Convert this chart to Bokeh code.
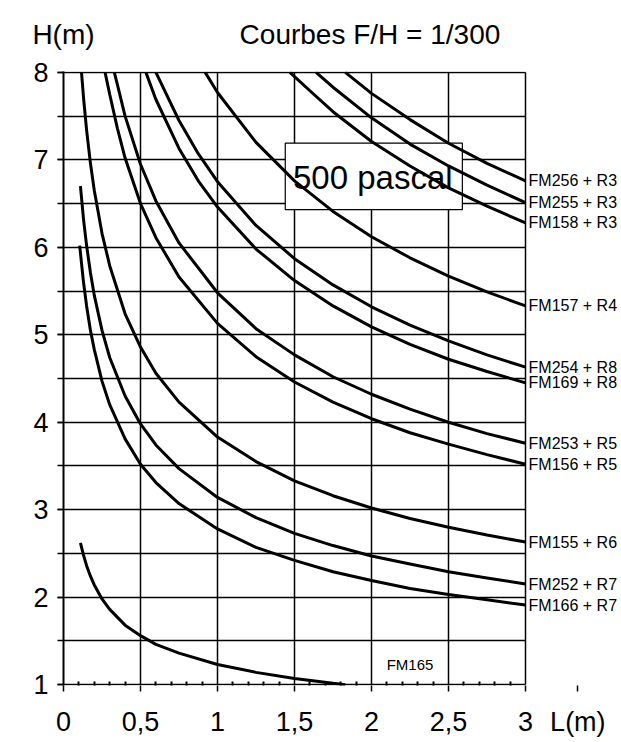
from bokeh.plotting import figure
from bokeh.models import (SingleIntervalTicker, FixedTicker, CustomJSTickFormatter, Label,
                          Range1d, LinearAxis)
from bokeh.embed import file_html
from bokeh.resources import INLINE
from bokeh.core.properties import value

TITLE = "Courbes F/H = 1/300"
Y_TITLE = "H(m)"
X_TITLE = "L(m)"
BOX_TEXT = "500 pascal"

# curves: L (m) and H (m)
L_FM256 = [1.83, 2.0, 2.25, 2.5, 2.75, 3.0]
H_FM256 = [8.0, 7.76, 7.46, 7.19, 6.96, 6.76]
L_FM255 = [1.64, 1.75, 2.0, 2.25, 2.5, 2.75, 3.0]
H_FM255 = [8.0, 7.83, 7.48, 7.18, 6.93, 6.71, 6.51]
L_FM158 = [1.47, 1.6, 1.75, 2.0, 2.25, 2.5, 2.75, 3.0]
H_FM158 = [8.0, 7.79, 7.55, 7.21, 6.93, 6.68, 6.47, 6.28]
L_FM157 = [0.92, 1.0, 1.25, 1.5, 1.75, 2.0, 2.25, 2.5, 2.75, 3.0]
H_FM157 = [8.0, 7.77, 7.20, 6.76, 6.41, 6.12, 5.88, 5.67, 5.49, 5.33]
L_FM254 = [0.6, 0.75, 0.875, 1.0, 1.25, 1.5, 1.75, 2.0, 2.25, 2.5, 2.75, 3.0]
H_FM254 = [8.0, 7.45, 7.07, 6.75, 6.25, 5.87, 5.57, 5.32, 5.11, 4.93, 4.77, 4.63]
L_FM169 = [0.535, 0.6, 0.75, 0.875, 1.0, 1.25, 1.5, 1.75, 2.0, 2.25, 2.5, 2.75, 3.0]
H_FM169 = [8.0, 7.69, 7.13, 6.76, 6.46, 5.98, 5.62, 5.33, 5.09, 4.89, 4.72, 4.58, 4.45]
L_FM253 = [0.33, 0.35, 0.4, 0.5, 0.6, 0.75, 1.0, 1.25, 1.5, 1.75, 2.0, 2.25, 2.5, 2.75, 3.0]
H_FM253 = [8.0, 7.86, 7.50, 6.95, 6.53, 6.05, 5.48, 5.07, 4.77, 4.52, 4.32, 4.15, 4.0, 3.87, 3.76]
L_FM156 = [0.27, 0.3, 0.35, 0.4, 0.5, 0.6, 0.75, 1.0, 1.25, 1.5, 1.75, 2.0, 2.25, 2.5, 2.75, 3.0]
H_FM156 = [8.0, 7.75, 7.36, 7.02, 6.50, 6.11, 5.66, 5.13, 4.75, 4.46, 4.23, 4.04, 3.88, 3.75, 3.63, 3.52]
L_FM155 = [0.117, 0.13, 0.15, 0.175, 0.2, 0.25, 0.3, 0.4, 0.5, 0.6, 0.75, 1.0, 1.25, 1.5, 1.75, 2.0, 2.25, 2.5, 2.75, 3.0]
H_FM155 = [8.0, 7.71, 7.34, 6.96, 6.65, 6.16, 5.79, 5.24, 4.86, 4.56, 4.23, 3.83, 3.55, 3.33, 3.16, 3.02, 2.90, 2.80, 2.71, 2.63]
L_FM252 = [0.11, 0.13, 0.15, 0.175, 0.2, 0.25, 0.3, 0.4, 0.5, 0.6, 0.75, 1.0, 1.25, 1.5, 1.75, 2.0, 2.25, 2.5, 2.75, 3.0]
H_FM252 = [6.70, 6.32, 6.02, 5.71, 5.45, 5.05, 4.74, 4.30, 3.98, 3.74, 3.47, 3.14, 2.91, 2.73, 2.59, 2.47, 2.38, 2.29, 2.22, 2.15]
L_FM166 = [0.105, 0.13, 0.15, 0.175, 0.2, 0.25, 0.3, 0.4, 0.5, 0.6, 0.75, 1.0, 1.25, 1.5, 1.75, 2.0, 2.25, 2.5, 2.75, 3.0]
H_FM166 = [6.02, 5.60, 5.33, 5.05, 4.83, 4.47, 4.20, 3.81, 3.52, 3.31, 3.07, 2.78, 2.57, 2.42, 2.29, 2.19, 2.10, 2.03, 1.97, 1.91]
L_FM165 = [0.11, 0.13, 0.15, 0.175, 0.2, 0.25, 0.3, 0.4, 0.5, 0.6, 0.75, 1.0, 1.25, 1.5, 1.75, 1.83]
H_FM165 = [2.62, 2.48, 2.36, 2.24, 2.14, 1.98, 1.86, 1.68, 1.56, 1.46, 1.36, 1.23, 1.14, 1.07, 1.015, 1.0]

CURVES = [
    ("FM256 + R3", L_FM256, H_FM256),
    ("FM255 + R3", L_FM255, H_FM255),
    ("FM158 + R3", L_FM158, H_FM158),
    ("FM157 + R4", L_FM157, H_FM157),
    ("FM254 + R8", L_FM254, H_FM254),
    ("FM169 + R8", L_FM169, H_FM169),
    ("FM253 + R5", L_FM253, H_FM253),
    ("FM156 + R5", L_FM156, H_FM156),
    ("FM155 + R6", L_FM155, H_FM155),
    ("FM252 + R7", L_FM252, H_FM252),
    ("FM166 + R7", L_FM166, H_FM166),
]
LAST_NAME = "FM165"

X_MAJOR = [0, 0.5, 1, 1.5, 2, 2.5, 3]
X_MINOR = [i / 10 for i in range(1, 30) if i % 5]
X_TITLE_POS = 3.34          # where "L(m)" sits in the tick-label row
TOP_POS = [0.0, 1.99]       # positions of "H(m)" and the title above the frame

FONT = "Liberation Sans"
W, H = 621, 742
LEFT, BOTTOM, TOP = 63, 57, 71
PX_PER_L = 154.0

p = figure(width=W, height=H,
           x_range=Range1d(0, (W - LEFT) / PX_PER_L), y_range=Range1d(0.99, 8.01),
           output_backend="svg", toolbar_location=None, title=None,
           min_border_left=LEFT, min_border_right=0, min_border_top=TOP, min_border_bottom=BOTTOM)
p.background_fill_color = "white"
p.border_fill_color = "white"
p.outline_line_color = None

# grids limited to the 0..3 x 1..8 box
p.xgrid.ticker = SingleIntervalTicker(interval=0.5)
p.ygrid.ticker = SingleIntervalTicker(interval=0.5)
p.xgrid.bounds = (0, 3)
p.xgrid.cross_bounds = (1, 8)
p.ygrid.bounds = (1, 8)
p.ygrid.cross_bounds = (0, 3)
p.xgrid.grid_line_width = 1.5
p.ygrid.grid_line_width = 1.5
p.ygrid.grid_line_color = "black"
p.xgrid.grid_line_color = "black"
p.xgrid.grid_line_alpha = 1.0
p.ygrid.grid_line_alpha = 1.0

# bottom axis (with "L(m)" in the tick-label row)
p.xaxis.ticker = FixedTicker(ticks=X_MAJOR + [X_TITLE_POS], minor_ticks=X_MINOR)
p.xaxis.formatter = CustomJSTickFormatter(
    args=dict(tpos=X_TITLE_POS, ttext=X_TITLE),
    code="if (Math.abs(tick - tpos) < 1e-6) { return ttext; } return tick.toString().replace('.', ',');")
p.yaxis.ticker = SingleIntervalTicker(interval=1, num_minor_ticks=2)
for ax in (p.xaxis[0], p.yaxis[0]):
    ax.axis_line_color = "black"
    ax.axis_line_width = 2
    ax.major_tick_line_color = "black"
    ax.major_tick_line_width = 1.5
    ax.minor_tick_line_color = "black"
    ax.minor_tick_line_width = 2
    ax.major_label_text_font = FONT
    ax.major_label_text_font_size = "27px"
    ax.major_label_text_color = "black"
p.xaxis.axis_line_color = None
p.xaxis.major_tick_in = 0
p.xaxis.major_tick_out = 6
p.xaxis.minor_tick_in = 4
p.xaxis.minor_tick_out = 0
p.xaxis.major_label_standoff = 15
p.yaxis.major_tick_in = 0
p.yaxis.major_tick_out = 6
p.yaxis.minor_tick_in = 0
p.yaxis.minor_tick_out = 6
p.yaxis.minor_tick_line_width = 1.5
p.yaxis.major_label_standoff = 9

# top texts: "H(m)" and the title, as labels of an axis above the frame
top_axis = LinearAxis(
    ticker=FixedTicker(ticks=TOP_POS, minor_ticks=[]),
    formatter=CustomJSTickFormatter(args=dict(a=Y_TITLE, b=TITLE),
                                    code="return (tick < 0.5) ? a : b;"),
    axis_line_color=None, major_tick_line_color=None, minor_tick_line_color=None,
    major_tick_in=0, major_tick_out=0, major_label_standoff=22,
    major_label_text_font=FONT, major_label_text_font_size="28px",
    major_label_text_color="black")
p.add_layout(top_axis, "above")

# "500 pascal" box
p.quad(left=[1.44], right=[2.59], bottom=[6.43], top=[7.19],
       fill_color="white", line_color="black", line_width=1.2)
p.text(x=[1.49], y=[6.80], text=[BOX_TEXT], text_font=value(FONT),
       text_font_size="33px", text_baseline="middle", text_align="left", text_color="black")

# curves
for name, xs, ys in CURVES:
    p.line(xs, ys, line_color="black", line_width=3)
    p.add_layout(Label(x=3.02, y=ys[-1], text=name, text_font=FONT, text_font_size="16px",
                       text_baseline="middle", text_align="left", text_color="black"))
p.line(L_FM165, H_FM165, line_color="black", line_width=3)
p.add_layout(Label(x=2.25, y=1.23, text=LAST_NAME, text_font=FONT, text_font_size="15px",
                   text_baseline="middle", text_align="center", text_color="black"))

open("out.html", "w").write(file_html(p, INLINE))
